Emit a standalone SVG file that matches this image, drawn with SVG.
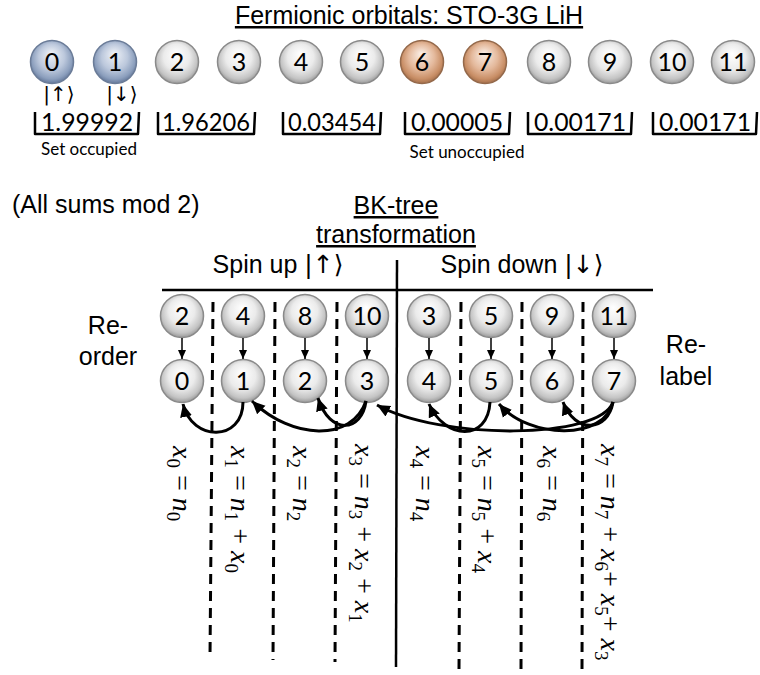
<svg xmlns="http://www.w3.org/2000/svg" width="760" height="675" viewBox="0 0 760 675">
<defs>
<radialGradient id="gw" cx="50%" cy="45%" r="55%" fx="48%" fy="30%">
<stop offset="0" stop-color="#ffffff"/><stop offset="0.55" stop-color="#ebebeb"/><stop offset="0.85" stop-color="#c4c4c4"/><stop offset="1" stop-color="#9a9a9a"/>
</radialGradient>
<radialGradient id="gb" cx="50%" cy="45%" r="55%" fx="48%" fy="30%">
<stop offset="0" stop-color="#f0f3f8"/><stop offset="0.55" stop-color="#bcc8dc"/><stop offset="0.85" stop-color="#8c9fbd"/><stop offset="1" stop-color="#65799b"/>
</radialGradient>
<radialGradient id="go" cx="50%" cy="45%" r="55%" fx="48%" fy="30%">
<stop offset="0" stop-color="#fbf0e8"/><stop offset="0.55" stop-color="#e4b99c"/><stop offset="0.85" stop-color="#c98f67"/><stop offset="1" stop-color="#a6704b"/>
</radialGradient>
<marker id="ah" markerUnits="userSpaceOnUse" markerWidth="14" markerHeight="14" refX="13" refY="6" orient="auto" viewBox="0 0 14 12">
<path d="M0,0 L13,6 L0,12 z" fill="#000"/>
</marker>
<marker id="sh" markerUnits="userSpaceOnUse" markerWidth="9" markerHeight="8" refX="9" refY="4" orient="auto" viewBox="0 0 9 8">
<path d="M0,0 L9,4 L0,8 z" fill="#000"/>
</marker>
</defs>
<style>
.cw{fill:url(#gw);stroke:#8a8a8a;stroke-width:1.5}
.cb{fill:url(#gb);stroke:#6b7c98;stroke-width:1.5}
.co{fill:url(#go);stroke:#94694b;stroke-width:1.5}
.num{font-family:Lato,"Open Sans",sans-serif;font-size:25px;text-anchor:middle;fill:#000}
.lab{font-family:"Liberation Sans","DejaVu Sans",sans-serif;font-size:25px;fill:#000}
.mid{text-anchor:middle}
.val{font-family:Lato,"Open Sans",sans-serif;font-size:25px;text-anchor:middle;fill:#000}
.small{font-family:Lato,"Liberation Sans",sans-serif;font-size:17px;text-anchor:middle;fill:#000}
.ket{font-family:"DejaVu Sans",sans-serif;font-size:20px;text-anchor:middle;fill:#000}
.arr{font-family:"DejaVu Sans",sans-serif}
.br{fill:none;stroke:#000;stroke-width:2.5;stroke-linejoin:round}
.dash{stroke:#000;stroke-width:3;stroke-dasharray:10 7}
.solid{stroke:#000;stroke-width:2.5}
.conn{fill:none;stroke:#000;stroke-width:3;marker-end:url(#ah)}
.down{stroke:#000;stroke-width:1.5;marker-end:url(#sh)}
.eq{font-family:"Liberation Serif","DejaVu Serif",serif;font-size:28px;fill:#000}
.v{font-style:italic}
.s{font-size:19px}
</style>
<rect width="760" height="675" fill="#fff"/>

<text class="lab mid" x="409" y="24" font-size="26" text-decoration="underline">Fermionic orbitals: STO-3G LiH</text>

<g id="orbitals">
<g id="o0"><circle class="cb" cx="52" cy="62" r="21.5"/><text class="num" x="52" y="71">0</text></g>
<g id="o1"><circle class="cb" cx="115" cy="62" r="21.5"/><text class="num" x="115" y="71">1</text></g>
<g id="o2"><circle class="cw" cx="177" cy="62" r="21.5"/><text class="num" x="177" y="71">2</text></g>
<g id="o3"><circle class="cw" cx="239" cy="62" r="21.5"/><text class="num" x="239" y="71">3</text></g>
<g id="o4"><circle class="cw" cx="301" cy="62" r="21.5"/><text class="num" x="301" y="71">4</text></g>
<g id="o5"><circle class="cw" cx="362" cy="62" r="21.5"/><text class="num" x="362" y="71">5</text></g>
<g id="o6"><circle class="co" cx="422" cy="62" r="21.5"/><text class="num" x="422" y="71">6</text></g>
<g id="o7"><circle class="co" cx="485" cy="62" r="21.5"/><text class="num" x="485" y="71">7</text></g>
<g id="o8"><circle class="cw" cx="549" cy="62" r="21.5"/><text class="num" x="549" y="71">8</text></g>
<g id="o9"><circle class="cw" cx="610" cy="62" r="21.5"/><text class="num" x="610" y="71">9</text></g>
<g id="o10"><circle class="cw" cx="672" cy="62" r="21.5"/><text class="num" x="672" y="71">10</text></g>
<g id="o11"><circle class="cw" cx="733" cy="62" r="21.5"/><text class="num" x="733" y="71">11</text></g>
</g>

<text class="ket" x="59" y="101">|↑⟩</text>
<text class="ket" x="122" y="101">|↓⟩</text>

<g id="occupations">
<path class="br" d="M35,112 L35,134 L138,134 L139,112"/><text class="val" x="87" y="131" textLength="92" lengthAdjust="spacingAndGlyphs">1.99992</text>
<path class="br" d="M158,112 L158,134 L254,134 L255,112"/><text class="val" x="206" y="131" textLength="88" lengthAdjust="spacingAndGlyphs">1.96206</text>
<path class="br" d="M283,112 L283,134 L380,134 L381,112"/><text class="val" x="332" y="131" textLength="88" lengthAdjust="spacingAndGlyphs">0.03454</text>
<path class="br" d="M405,112 L405,134 L509,134 L510,112"/><text class="val" x="457" y="131" textLength="92" lengthAdjust="spacingAndGlyphs">0.00005</text>
<path class="br" d="M528,112 L528,134 L631,134 L632,112"/><text class="val" x="580" y="131" textLength="92" lengthAdjust="spacingAndGlyphs">0.00171</text>
<path class="br" d="M653,112 L653,134 L756,134 L757,112"/><text class="val" x="705" y="131" textLength="92" lengthAdjust="spacingAndGlyphs">0.00171</text>
</g>
<text class="small" x="89" y="155">Set occupied</text>
<text class="small" x="467" y="158">Set unoccupied</text>

<text class="lab" x="12" y="213" font-size="26">(All sums mod 2)</text>
<text class="lab mid" x="396" y="214" text-decoration="underline">BK-tree</text>
<text class="lab mid" x="396" y="243" text-decoration="underline">transformation</text>
<text class="lab mid" x="278" y="273">Spin up <tspan class="arr">|↑⟩</tspan></text>
<text class="lab mid" x="522" y="273">Spin down <tspan class="arr">|↓⟩</tspan></text>
<text class="lab mid" x="108" y="334">Re-</text>
<text class="lab mid" x="108" y="365">order</text>
<text class="lab mid" x="686" y="353">Re-</text>
<text class="lab mid" x="686" y="385">label</text>

<g id="dividers">
<line class="solid" x1="162" y1="290" x2="653" y2="290"/>
<line class="solid" x1="397" y1="260" x2="396" y2="667"/>
<line class="dash" x1="213" y1="302" x2="210" y2="658"/>
<line class="dash" x1="275" y1="302" x2="273" y2="660"/>
<line class="dash" x1="337" y1="302" x2="335" y2="662"/>
<line class="dash" x1="461" y1="302" x2="459" y2="670"/>
<line class="dash" x1="522" y1="302" x2="521" y2="670"/>
<line class="dash" x1="583" y1="302" x2="582" y2="670"/>
</g>

<g id="row-orig">
<g id="r2"><circle class="cw" cx="182" cy="316" r="21.5"/><text class="num" x="182" y="325">2</text></g>
<g id="r4"><circle class="cw" cx="243" cy="316" r="21.5"/><text class="num" x="243" y="325">4</text></g>
<g id="r8"><circle class="cw" cx="305" cy="316" r="21.5"/><text class="num" x="305" y="325">8</text></g>
<g id="r10"><circle class="cw" cx="367" cy="316" r="21.5"/><text class="num" x="367" y="325">10</text></g>
<g id="r3"><circle class="cw" cx="429" cy="316" r="21.5"/><text class="num" x="429" y="325">3</text></g>
<g id="r5"><circle class="cw" cx="491" cy="316" r="21.5"/><text class="num" x="491" y="325">5</text></g>
<g id="r9"><circle class="cw" cx="552" cy="316" r="21.5"/><text class="num" x="552" y="325">9</text></g>
<g id="r11"><circle class="cw" cx="614" cy="316" r="21.5"/><text class="num" x="614" y="325">11</text></g>
</g>

<g id="row-new">
<g id="n0"><circle class="cw" cx="182" cy="381" r="21.5"/><text class="num" x="182" y="390">0</text></g>
<g id="n1"><circle class="cw" cx="243" cy="381" r="21.5"/><text class="num" x="243" y="390">1</text></g>
<g id="n2"><circle class="cw" cx="305" cy="381" r="21.5"/><text class="num" x="305" y="390">2</text></g>
<g id="n3"><circle class="cw" cx="367" cy="381" r="21.5"/><text class="num" x="367" y="390">3</text></g>
<g id="n4"><circle class="cw" cx="429" cy="381" r="21.5"/><text class="num" x="429" y="390">4</text></g>
<g id="n5"><circle class="cw" cx="491" cy="381" r="21.5"/><text class="num" x="491" y="390">5</text></g>
<g id="n6"><circle class="cw" cx="552" cy="381" r="21.5"/><text class="num" x="552" y="390">6</text></g>
<g id="n7"><circle class="cw" cx="614" cy="381" r="21.5"/><text class="num" x="614" y="390">7</text></g>
</g>

<g id="connectors">
<line class="down" x1="182" y1="338" x2="182" y2="359"/>
<line class="down" x1="243" y1="338" x2="243" y2="359"/>
<line class="down" x1="305" y1="338" x2="305" y2="359"/>
<line class="down" x1="367" y1="338" x2="367" y2="359"/>
<line class="down" x1="429" y1="338" x2="429" y2="359"/>
<line class="down" x1="491" y1="338" x2="491" y2="359"/>
<line class="down" x1="552" y1="338" x2="552" y2="359"/>
<line class="down" x1="614" y1="338" x2="614" y2="359"/>
<path class="conn" d="M243,402 C243,442 192,442 183,404"/>
<path class="conn" d="M366,401 C352,442 292,440 252,401"/>
<path class="conn" d="M366,401 C362,432 330,436 318,398"/>
<path class="conn" d="M613,402 C600,440 440,440 377,405"/>
<path class="conn" d="M490,402 C488,442 445,440 429,404"/>
<path class="conn" d="M613,402 C605,440 530,440 499,404"/>
<path class="conn" d="M613,402 C608,432 575,434 563,402"/>
</g>

<g id="equations">
<text class="eq" transform="translate(173,446) rotate(90)"><tspan class="v">x</tspan><tspan class="s" dy="6">0</tspan><tspan dy="-6"> = </tspan><tspan class="v">n</tspan><tspan class="s" dy="6">0</tspan></text>
<text class="eq" transform="translate(231,446) rotate(90)"><tspan class="v">x</tspan><tspan class="s" dy="6">1</tspan><tspan dy="-6"> = </tspan><tspan class="v">n</tspan><tspan class="s" dy="6">1</tspan><tspan dy="-6"> + </tspan><tspan class="v">x</tspan><tspan class="s" dy="6">0</tspan></text>
<text class="eq" transform="translate(293,446) rotate(90)"><tspan class="v">x</tspan><tspan class="s" dy="6">2</tspan><tspan dy="-6"> = </tspan><tspan class="v">n</tspan><tspan class="s" dy="6">2</tspan></text>
<text class="eq" transform="translate(355,444) rotate(90)"><tspan class="v">x</tspan><tspan class="s" dy="6">3</tspan><tspan dy="-6"> = </tspan><tspan class="v">n</tspan><tspan class="s" dy="6">3</tspan><tspan dy="-6"> + </tspan><tspan class="v">x</tspan><tspan class="s" dy="6">2</tspan><tspan dy="-6"> + </tspan><tspan class="v">x</tspan><tspan class="s" dy="6">1</tspan></text>
<text class="eq" transform="translate(416,446) rotate(90)"><tspan class="v">x</tspan><tspan class="s" dy="6">4</tspan><tspan dy="-6"> = </tspan><tspan class="v">n</tspan><tspan class="s" dy="6">4</tspan></text>
<text class="eq" transform="translate(478,446) rotate(90)"><tspan class="v">x</tspan><tspan class="s" dy="6">5</tspan><tspan dy="-6"> = </tspan><tspan class="v">n</tspan><tspan class="s" dy="6">5</tspan><tspan dy="-6"> + </tspan><tspan class="v">x</tspan><tspan class="s" dy="6">4</tspan></text>
<text class="eq" transform="translate(543,446) rotate(90)"><tspan class="v">x</tspan><tspan class="s" dy="6">6</tspan><tspan dy="-6"> = </tspan><tspan class="v">n</tspan><tspan class="s" dy="6">6</tspan></text>
<text class="eq" transform="translate(601,444) rotate(90)"><tspan class="v">x</tspan><tspan class="s" dy="6">7</tspan><tspan dy="-6"> = </tspan><tspan class="v">n</tspan><tspan class="s" dy="6">7</tspan><tspan dy="-6"> + </tspan><tspan class="v">x</tspan><tspan class="s" dy="6">6</tspan><tspan dy="-6">+ </tspan><tspan class="v">x</tspan><tspan class="s" dy="6">5</tspan><tspan dy="-6">+ </tspan><tspan class="v">x</tspan><tspan class="s" dy="6">3</tspan></text>
</g>
</svg>
